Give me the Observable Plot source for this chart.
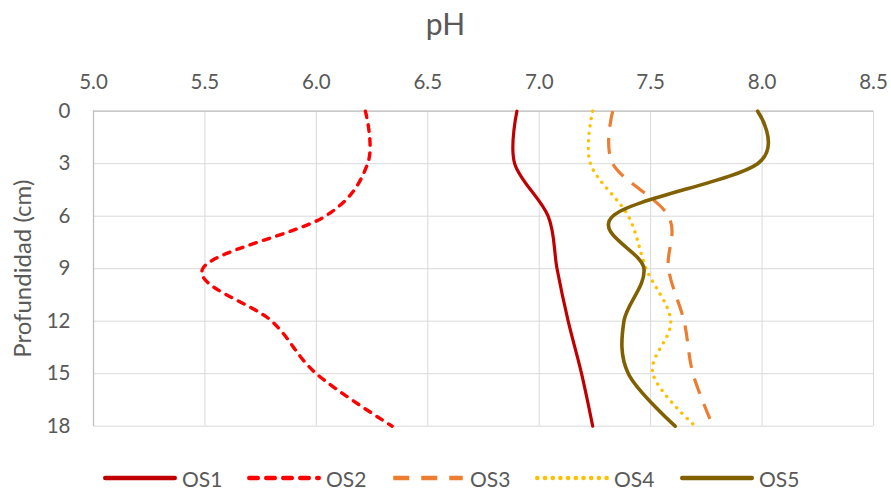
<!DOCTYPE html>
<html>
<head>
<meta charset="utf-8">
<script src="https://cdn.jsdelivr.net/npm/d3@7"></script>
<script src="https://cdn.jsdelivr.net/npm/@observablehq/plot@0.6"></script>
<style>
  html, body { margin: 0; padding: 0; background: #fff; }
  body { width: 891px; height: 489px; position: relative; overflow: hidden; font-family: Lato, "Open Sans", sans-serif; color: #595959; }
  #title { position: absolute; left: 0; top: -4px; width: 891px; height: 54px; line-height: 54px; text-align: center; font-size: 30px; }
  #chart { position: absolute; left: 0; top: 48px; }
  #legend { position: absolute; left: 0; top: 463px; width: 891px; height: 30px; }
  .item { position: absolute; top: 0; height: 30px; display: flex; align-items: center; font-size: 21px; }
  .item svg { margin-right: 5px; }
</style>
</head>
<body>
<div id="title">pH</div>
<div id="chart"></div>
<div id="legend"></div>
<script>
// Depth (cm)
const depths = [0, 3, 6, 9, 12, 15, 18];
// pH values per series, at each depth
const os1 = [6.90, 6.89, 7.04, 7.08, 7.13, 7.19, 7.24];
const os2 = [6.22, 6.23, 6.04, 5.49, 5.80, 6.00, 6.34];
const os3 = [7.33, 7.33, 7.58, 7.58, 7.65, 7.69, 7.78];
const os4 = [7.24, 7.23, 7.40, 7.48, 7.59, 7.51, 7.70];
const os5 = [7.98, 7.98, 7.33, 7.47, 7.38, 7.40, 7.61];
const seriesNames = ["OS1", "OS2", "OS3", "OS4", "OS5"];
const xTicks = [5.0, 5.5, 6.0, 6.5, 7.0, 7.5, 8.0, 8.5];
const yTicks = [0, 3, 6, 9, 12, 15, 18];

const seriesValues = [os1, os2, os3, os4, os5];
const styles = [
  {stroke: "#c00000", dash: null, width: 3.2, cap: "round", legDash: null},
  {stroke: "#ff0000", dash: "6.5,7.5", width: 3.4, cap: "round", legDash: "8.5,8.5"},
  {stroke: "#ed7d31", dash: "16,11", width: 3.2, cap: "butt", legDash: "16,12"},
  {stroke: "#ffc000", dash: "0.1,7.4", width: 3.4, cap: "round", legDash: "0.1,7.6"},
  {stroke: "#806000", dash: null, width: 3.6, cap: "round", legDash: null}
];

const table = seriesNames.flatMap((s, i) => depths.map((d, j) => ({series: s, depth: d, ph: seriesValues[i][j]})));

const lineMarks = seriesNames.map((s, i) => Plot.line(table.filter(r => r.series === s), {
  x: "ph", y: "depth", curve: "cardinal", tension: 0,
  stroke: styles[i].stroke, strokeWidth: styles[i].width,
  strokeDasharray: styles[i].dash, strokeLinecap: styles[i].cap, strokeLinejoin: "round"
}));

const chart = Plot.plot({
  width: 891, height: 410,
  marginTop: 62.7, marginLeft: 93, marginRight: 18, marginBottom: 32.3,
  style: {fontFamily: "Lato, 'Open Sans', sans-serif", color: "#595959", background: "transparent"},
  x: {domain: [5, 8.5]},
  y: {domain: [0, 18], reverse: true},
  marks: [
    Plot.gridX(xTicks, {stroke: "#d9d9d9", strokeOpacity: 1, strokeWidth: 1}),
    Plot.gridY(yTicks, {stroke: "#d9d9d9", strokeOpacity: 1, strokeWidth: 1}),
    Plot.ruleY([0], {stroke: "#bfbfbf", strokeWidth: 1.3}),
    Plot.ruleX([5], {stroke: "#bfbfbf", strokeWidth: 1.3}),
    Plot.axisX(xTicks, {anchor: "top", tickSize: 0, tickPadding: 22, fontSize: 20.5, tickFormat: d3.format(".1f"), label: null, fill: "#595959"}),
    Plot.axisY(yTicks, {anchor: "left", tickSize: 0, tickPadding: 23, fontSize: 20.5, label: null, fill: "#595959"}),
    Plot.text(["Profundidad (cm)"], {frameAnchor: "left", dx: -70, rotate: -90, textAnchor: "middle", fontSize: 24, fill: "#595959"}),
    ...lineMarks
  ]
});
document.getElementById("chart").appendChild(chart);

// Legend
const legendX = [103, 247, 391, 535, 680];
const legend = document.getElementById("legend");
seriesNames.forEach((s, i) => {
  const st = styles[i];
  const div = document.createElement("div");
  div.className = "item";
  div.style.left = legendX[i] + "px";
  div.innerHTML = `<svg width="74" height="10"><line x1="2.25" y1="5" x2="71.75" y2="5" stroke="${st.stroke}" stroke-width="4.5" ${st.legDash ? `stroke-dasharray="${st.legDash}"` : ""} stroke-linecap="${st.cap}"/></svg><span>${s}</span>`;
  legend.appendChild(div);
});
</script>
</body>
</html>
